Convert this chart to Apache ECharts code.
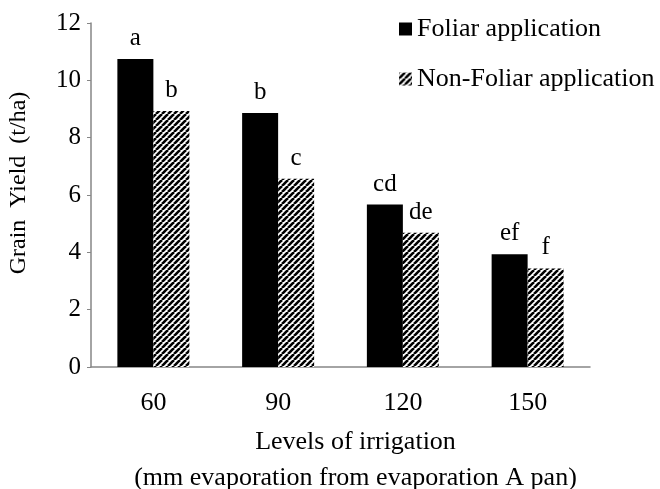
<!DOCTYPE html>
<html>
<head>
<meta charset="utf-8">
<script src="https://cdn.jsdelivr.net/npm/echarts@6/dist/echarts.min.js"></script>
<style>
  html, body { margin: 0; padding: 0; background: #fff; }
  #chart { width: 660px; height: 489px; }
</style>
</head>
<body>
<div id="chart"></div>
<script>
const levels = ['60', '90', '120', '150']
const foliar = [10.74, 8.86, 5.67, 3.93]
const nonFoliar = [8.93, 6.57, 4.68, 3.44]
const foliarLetters = ['a', 'b', 'cd', 'ef']
const nonFoliarLetters = ['b', 'c', 'de', 'f']

const font = '"Liberation Serif", "Times New Roman", serif'

// striped fill for the non-foliar bars
const makeStripes = () => {
  const p = 6
  const c = document.createElement('canvas')
  c.width = p
  c.height = p
  const ctx = c.getContext('2d')
  ctx.fillStyle = '#fff'
  ctx.fillRect(0, 0, p, p)
  ctx.strokeStyle = '#000'
  ctx.lineWidth = 2.6
  for (let i = -1; i <= 1; i++) {
    ctx.beginPath()
    ctx.moveTo(i * p, p)
    ctx.lineTo(i * p + p, 0)
    ctx.stroke()
  }
  return c
}

const chart = echarts.init(document.getElementById('chart'))

chart.setOption({
  animation: false,
  textStyle: { fontFamily: font, color: '#000' },
  grid: { left: 91, right: 70, top: 23, bottom: 122, outerBoundsMode: 'none' },
  legend: {
    orient: 'vertical',
    left: 394,
    top: 11,
    itemWidth: 13,
    itemHeight: 13,
    itemGap: 24,
    itemTextGap: 8,
    icon: 'rect',
    textStyle: { fontFamily: font, fontSize: 26, color: '#000' },
    data: ['Foliar application', 'Non-Foliar application']
  },
  xAxis: {
    type: 'category',
    data: levels,
    axisLine: { lineStyle: { color: '#868686', width: 1.5 } },
    axisTick: { length: 8, lineStyle: { color: '#868686' } },
    axisLabel: { fontFamily: font, fontSize: 26, color: '#000', margin: 23 },
    name: 'Levels of irrigation\n(mm evaporation from evaporation A pan)',
    nameLocation: 'middle',
    nameGap: 57,
    nameTextStyle: {
      fontFamily: font, fontSize: 26, color: '#000',
      lineHeight: 36, verticalAlign: 'top', padding: [0, 0, 0, 30]
    }
  },
  yAxis: {
    type: 'value',
    min: 0,
    max: 12,
    interval: 2,
    splitLine: { show: false },
    axisLine: { show: true, lineStyle: { color: '#868686', width: 1.5 } },
    axisTick: { show: true, length: 4, lineStyle: { color: '#868686' } },
    axisLabel: { fontFamily: font, fontSize: 25, color: '#000', margin: 10 },
    name: 'Grain  Yield  (t/ha)',
    nameLocation: 'middle',
    nameGap: 60,
    nameTextStyle: { fontFamily: font, fontSize: 24, color: '#000', padding: [0, 0, 0, 24] }
  },
  series: [
    {
      name: 'Foliar application',
      type: 'bar',
      data: foliar,
      barWidth: 36,
      barGap: '0%',
      itemStyle: { color: '#000' },
      label: {
        show: true,
        position: 'top',
        distance: 8,
        fontFamily: font,
        fontSize: 25,
        color: '#000',
        formatter: p => foliarLetters[p.dataIndex]
      }
    },
    {
      name: 'Non-Foliar application',
      type: 'bar',
      data: nonFoliar,
      barWidth: 36,
      barGap: '0%',
      itemStyle: { color: { image: makeStripes(), repeat: 'repeat' } },
      label: {
        show: true,
        position: 'top',
        distance: 8,
        fontFamily: font,
        fontSize: 25,
        color: '#000',
        formatter: p => nonFoliarLetters[p.dataIndex]
      }
    }
  ]
})
</script>
</body>
</html>
